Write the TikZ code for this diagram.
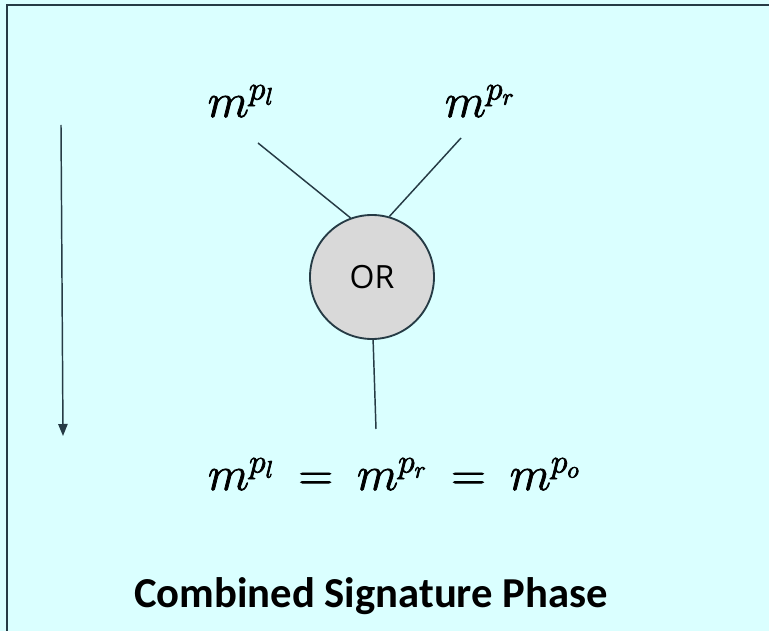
\documentclass[tikz,border=0pt]{standalone}
\usepackage{fix-cm}
\usepackage{amsmath}
\usepackage{fontspec}
\newfontfamily\gatefont{Open Sans}
\newfontfamily\titlefont{Carlito}
\usetikzlibrary{arrows.meta}
\definecolor{panelcyan}{HTML}{DAFFFF}
\definecolor{slateline}{HTML}{263B45}
\definecolor{gategray}{HTML}{D9D9D9}
% slightly heavier math, as in the picture
\newcommand\heavymath[1]{\special{pdf:literal direct 2 Tr 0.55 w}$\thickmuskip=9mu #1$\special{pdf:literal direct 0 Tr}}
\tikzset{
  mathlabel/.style={anchor=base, inner sep=0pt, font=\fontsize{36}{42}\selectfont},
  gatenode/.style={circle, draw=slateline, fill=gategray, line width=1.4pt,
    minimum size=93pt, inner sep=0pt, font=\gatefont\fontsize{24}{28}\selectfont},
  wire/.style={draw=slateline, line width=1.1pt}
}
\begin{document}
\begin{tikzpicture}[x=0.75pt, y=-0.75pt]
            \useasboundingbox (0,0) rectangle (769,631);
            \clip (0,0) rectangle (769,631);

            % Panel background and border
            \fill[panelcyan] (0,0) rectangle (769,631);
            \draw[slateline, line width=1.5pt, fill=panelcyan] (7,5) rectangle (800,660);

            % Phase arrow on the left
            \coordinate (flow-top) at (61,125);
            \coordinate (flow-bot) at (63,436);
            \draw[wire, -{Triangle[width=7pt, length=9pt]}] (flow-top) -- (flow-bot);

            % Inputs, gate and output
            \node[mathlabel] (ml) at (241,117) {\heavymath{m^{p_l}}};
            \node[mathlabel] (mr) at (480,117) {\heavymath{m^{p_r}}};
            \node[gatenode] (gate) at (372,277) {OR};
            \node[mathlabel] (eq) at (394,490) {\heavymath{m^{p_l} = m^{p_r} = m^{p_o}}};

            % Wires into and out of the gate
            \coordinate (ml-foot) at (258,143);
            \coordinate (mr-foot) at (461,138);
            \coordinate (eq-top) at (376,429);
            \draw[wire] (ml-foot) -- (gate.110);
            \draw[wire] (mr-foot) -- (gate.74);
            \draw[wire] (gate.-89) -- (eq-top);

            % Caption
            \node[anchor=base, inner sep=0pt, font=\titlefont\bfseries\fontsize{32}{38}\selectfont]
              (title) at (371,608) {Combined Signature Phase};
        \end{tikzpicture}
\end{document}
